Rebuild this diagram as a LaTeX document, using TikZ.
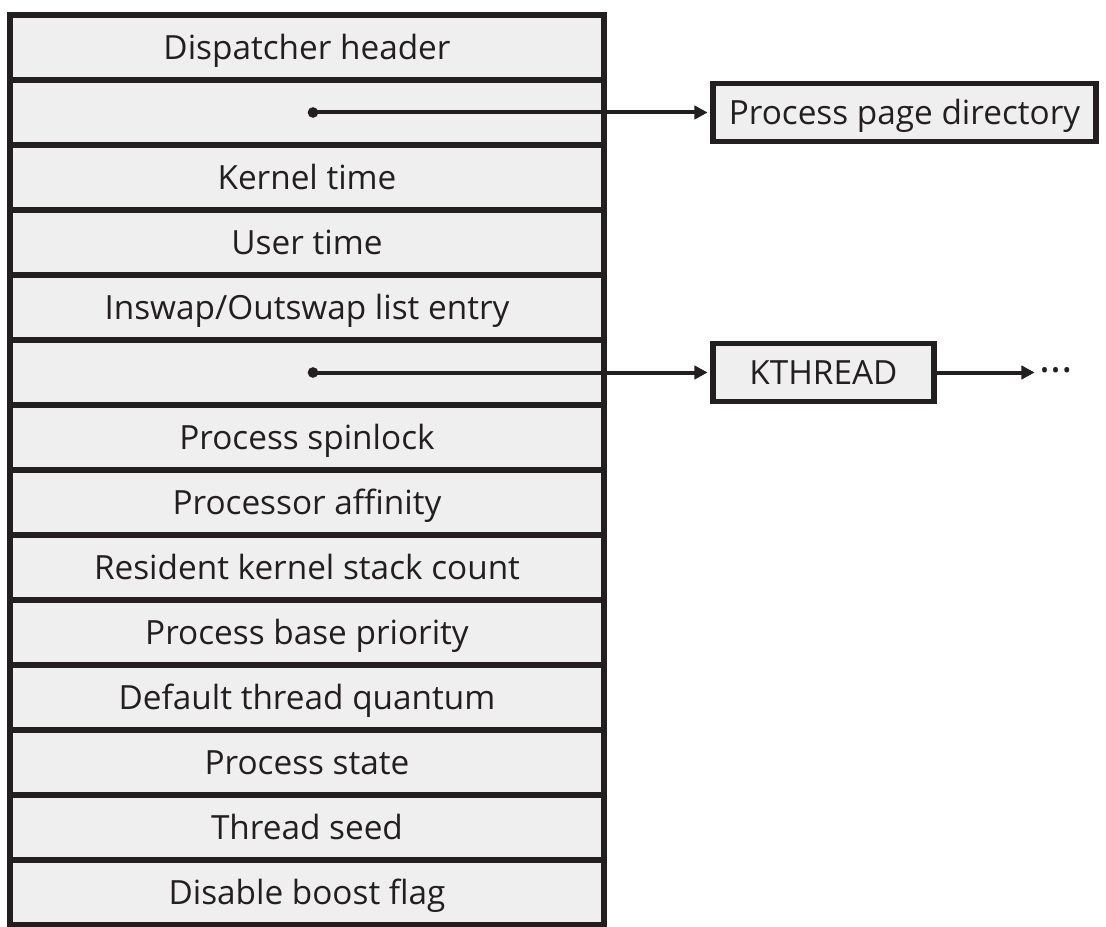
\documentclass[tikz,border=0pt]{standalone}
\usepackage{fontspec}
\setmainfont{Open Sans}
\usetikzlibrary{arrows.meta}
\definecolor{cellgray}{HTML}{EFEFEF}
\definecolor{ink}{HTML}{231F20}
\begin{document}
\begin{tikzpicture}[x=0.75pt,y=-0.75pt,
  txt/.style={font=\fontsize{25}{30}\selectfont,text=ink,text height=18pt,text depth=0pt},
  cell/.style={txt,draw=ink,fill=cellgray,line width=5pt,minimum width=594*0.75pt,minimum height=65*0.75pt,inner sep=0pt,outer sep=0pt},
  sidebox/.style={txt,draw=ink,fill=cellgray,line width=4.2pt,minimum height=58*0.75pt,inner sep=0pt,outer sep=0pt},
  dotnode/.style={circle,fill=ink,minimum size=8pt,inner sep=0pt},
  ptr/.style={draw=ink,line width=3pt,shorten >=4pt,-{Triangle[length=10pt,width=10pt]}},
  dots/.style={font=\fontsize{17}{20}\selectfont,text=ink,inner sep=0pt}]
\useasboundingbox (0,0) rectangle (1106,927);
\foreach \t [count=\i] in {Dispatcher header,{},Kernel time,User time,Inswap/Outswap list entry,{},Process spinlock,Processor affinity,Resident kernel stack count,Process base priority,Default thread quantum,Process state,Thread seed,Disable boost flag}{
  \node[cell] (r\i) at (307,{15+65*(\i-0.5)}) {\t};
}
\node[dotnode] (d1) at (313,112.5) {};
\node[dotnode] (d2) at (313,372.5) {};
\node[sidebox,minimum width=383*0.75pt] (ppd) at (904.5,112.5) {Process page directory};
\node[sidebox,minimum width=221*0.75pt] (kt) at (823.5,372.5) {KTHREAD};
\node[dots,anchor=west] (more) at (1040,372.5) {\textbullet\hspace{2pt}\textbullet\hspace{2pt}\textbullet};
\draw[ptr] (d1.center) -- (ppd.west);
\draw[ptr] (d2.center) -- (kt.west);
\draw[ptr] (kt.east) -- (more.west);
\end{tikzpicture}
\end{document}
